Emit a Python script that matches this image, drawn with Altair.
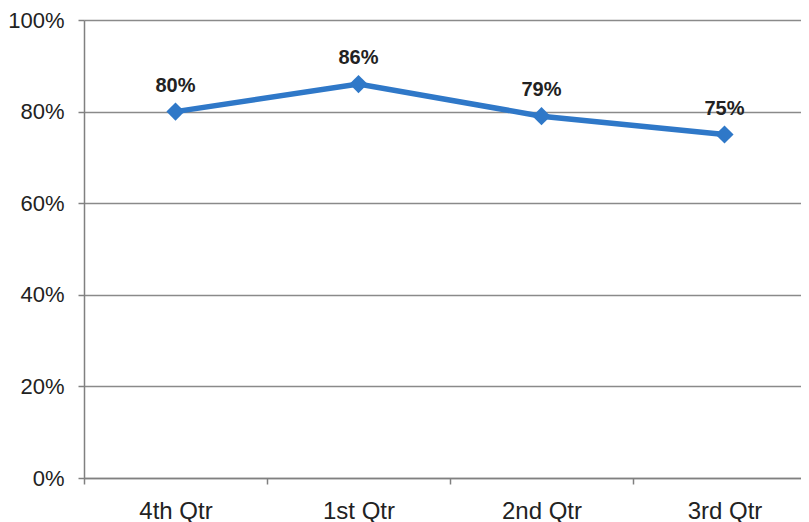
import altair as alt
import pandas as pd

quarters = ["4th Qtr", "1st Qtr", "2nd Qtr", "3rd Qtr"]
values = [0.80, 0.86, 0.79, 0.75]
labels = ["80%", "86%", "79%", "75%"]

df = pd.DataFrame({"q": quarters, "v": values, "lab": labels})

x = alt.X("q:N", sort=quarters, title=None,
          scale=alt.Scale(type="band", paddingInner=0, paddingOuter=0),
          axis=alt.Axis(tickBand="extent", labelAngle=0, labelFontSize=24, labelFont="Liberation Sans",
                        labelColor="#222222", labelPadding=15, tickSize=6, tickColor="#808080",
                        domainColor="#808080", domainWidth=1.5, tickWidth=1.5, grid=False))
y = alt.Y("v:Q", title=None,
          scale=alt.Scale(domain=[0, 1], nice=False),
          axis=alt.Axis(values=[0, 0.2, 0.4, 0.6, 0.8, 1.0], format=".0%", labelFontSize=22,
                        labelFont="Liberation Sans", labelColor="#222222", labelPadding=14,
                        tickSize=6, tickColor="#808080", tickWidth=1.5, domainColor="#808080",
                        domainWidth=1.5, gridColor="#8a8a8a", gridWidth=1.5))

base = alt.Chart(df).encode(x=x, y=y)

line = base.mark_line(color="#2f78c8", strokeWidth=5.5)
pts = base.mark_point(shape="diamond", filled=True, size=330, color="#2f78c8", opacity=1)
txt = base.mark_text(dy=-20, baseline="alphabetic", fontSize=20, fontWeight="bold",
                     font="Liberation Sans", color="#222222").encode(text="lab:N")

chart = (line + pts + txt).properties(
    width=732, height=458,
    autosize=alt.AutoSizeParams(type="none"),
    padding={"left": 76, "top": 12, "right": -15, "bottom": 44},
).configure_view(stroke=None)

chart.save("out.html", embed_options={"renderer": "svg", "actions": False})
